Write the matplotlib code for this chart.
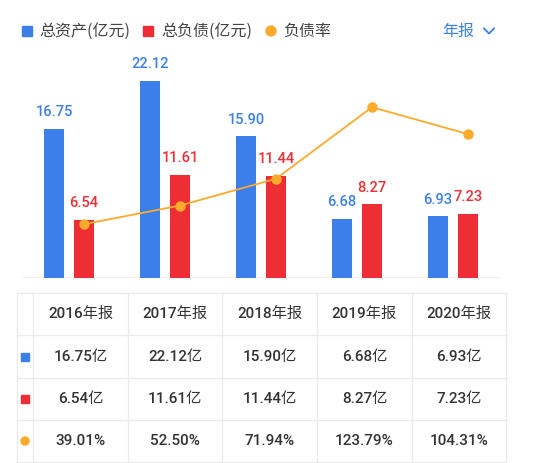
import matplotlib
matplotlib.use("Agg")
import matplotlib.pyplot as plt
from matplotlib.patches import Rectangle, Circle
import numpy as np

plt.rcParams['font.family'] = ['Roboto', 'Noto Sans CJK SC', 'DejaVu Sans']

# ---- data ----
years = ['2016年报', '2017年报', '2018年报', '2019年报', '2020年报']
assets = [16.75, 22.12, 15.90, 6.68, 6.93]
liabilities = [6.54, 11.61, 11.44, 8.27, 7.23]
ratio = [39.01, 52.50, 71.94, 123.79, 104.31]
legend_labels = ['总资产(亿元)', '总负债(亿元)', '负债率']
period_label = '年报'

BLUE = '#3C7FEA'
RED = '#EE2E34'
ORANGE = '#FBAA2B'
TXT = '#333333'
GRID = '#EBEBEB'
FW = 'medium'
CJK = ['Noto Sans CJK SC', 'DejaVu Sans']

W, H = 554, 463
fig = plt.figure(figsize=(W / 100, H / 100), dpi=100)
fig.patch.set_facecolor('white')


def box(x0, y0, x1, y1):
    # pixel box (top-left origin) -> figure fraction rect
    return [x0 / W, 1 - y1 / H, (x1 - x0) / W, (y1 - y0) / H]


# ---- chart ----
ax = fig.add_axes(box(22, 60, 500, 278))
x = np.arange(len(years))
bw = 0.208
off = 0.156
ax.bar(x - off, assets, width=bw, color=BLUE, zorder=2)
ax.bar(x + off, liabilities, width=bw, color=RED, zorder=2)
ax.set_xlim(-0.49, 4.49)
ax.set_ylim(0, 24.48)
for xi, v in zip(x, assets):
    ax.annotate(f'{v:.2f}', (xi - off, v), xytext=(0, 7), textcoords='offset points',
                ha='center', va='bottom', color=BLUE, fontsize=10.5, fontweight=FW)
for xi, v in zip(x, liabilities):
    ax.annotate(f'{v:.2f}', (xi + off, v), xytext=(0, 7), textcoords='offset points',
                ha='center', va='bottom', color=RED, fontsize=10.5, fontweight=FW)
for s in ax.spines.values():
    s.set_visible(False)
ax.axhline(0, color=GRID, lw=1.2, zorder=1)
ax.set_xticks([])
ax.set_yticks([])
ax.patch.set_alpha(0)

ax2 = ax.twinx()
ax2.set_ylim(0, 158)
ax2.plot(x + off, ratio, color=ORANGE, lw=1.3, marker='o', ms=6.5, zorder=3)
ax2.set_yticks([])
for s in ax2.spines.values():
    s.set_visible(False)

# ---- legend ----
lax = fig.add_axes([0, 0, 1, 1])
lax.set_xlim(0, W)
lax.set_ylim(H, 0)
lax.axis('off')
ly = 31
lfs = 11.5
lax.add_patch(Rectangle((22, ly - 5), 10, 10, color=BLUE))
lax.text(39, ly, legend_labels[0], va='center', ha='left', fontsize=lfs, color='#444444', family=CJK)
lax.add_patch(Rectangle((143, ly - 5), 10, 10, color=RED))
lax.text(161, ly, legend_labels[1], va='center', ha='left', fontsize=lfs, color='#444444', family=CJK)
lax.add_patch(Circle((271, ly), 5, color=ORANGE))
lax.text(283, ly, legend_labels[2], va='center', ha='left', fontsize=lfs, color='#444444', family=CJK)
lax.text(442, ly, period_label, va='center', ha='left', fontsize=lfs, color=BLUE, family=CJK)
lax.plot([484, 489, 494], [ly - 2.5, ly + 2.5, ly - 2.5], color=BLUE, lw=1.3)

# ---- table ----
col_edges = [17, 33, 128, 222, 317, 412, 506]
row_edges = [293, 335, 378, 420, 462]
for xe in col_edges:
    lax.plot([xe, xe], [row_edges[0], row_edges[-1]], color=GRID, lw=1)
for ye in row_edges:
    lax.plot([col_edges[0], col_edges[-1]], [ye, ye], color=GRID, lw=1)

rows = [years,
        [f'{v:.2f}亿' for v in assets],
        [f'{v:.2f}亿' for v in liabilities],
        [f'{v:.2f}%' for v in ratio]]
for r, vals in enumerate(rows):
    yc = (row_edges[r] + row_edges[r + 1]) / 2
    for c, t in enumerate(vals):
        xc = (col_edges[c + 1] + col_edges[c + 2]) / 2
        lax.text(xc, yc, t, ha='center', va='center', fontsize=11, color=TXT, fontweight=FW)

mx = (col_edges[0] + col_edges[1]) / 2
lax.add_patch(Rectangle((mx - 4, (row_edges[1] + row_edges[2]) / 2 - 4), 8, 8, color=BLUE))
lax.add_patch(Rectangle((mx - 4, (row_edges[2] + row_edges[3]) / 2 - 4), 8, 8, color=RED))
lax.add_patch(Circle((mx, (row_edges[3] + row_edges[4]) / 2), 4, color=ORANGE))

fig.savefig('out.png', dpi=100, facecolor='white')
